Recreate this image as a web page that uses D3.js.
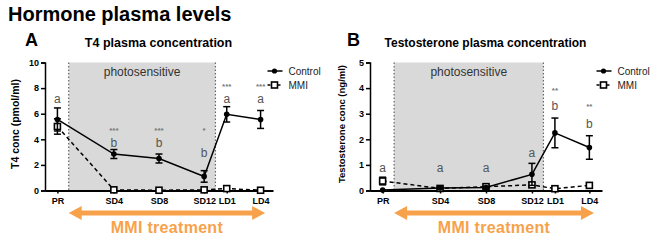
<!DOCTYPE html>
<head>
    <script src="https://d3js.org/d3.v7.min.js"></script>
    <style>
        body { margin: 0; background: #fff; font-family: Arial, "Liberation Sans", sans-serif; }
        svg text { font-family: Arial, "Liberation Sans", sans-serif; }
    </style>
</head>
<body>
    <svg></svg>
    <script>
        // sampling points, placed on a day axis
        const categories = ["PR", "SD4", "SD8", "SD12", "LD1", "LD4"]
        const days = [-1, 4, 8, 12, 14, 17]

        // T4 (pmol/ml)
        const t4Control = [5.55, 2.85, 2.5, 1.1, 5.95, 5.55]
        const t4ControlErr = [0.9, 0.35, 0.35, 0.45, 0.6, 0.7]
        const t4Mmi = [5.0, 0.05, 0.02, 0.05, 0.15, 0.02]
        const t4MmiErr = [0.6, 0, 0, 0, 0, 0]
        const t4Letters = ["a", "b", "b", "b", "a", "a"]
        const t4LetterAt = [6.84, 3.41, 3.41, 2.62, 6.84, 6.84]
        const t4Stars = ["", "***", "***", "*", "***", "***"]
        const t4StarAt = [0, 4.5, 4.5, 4.5, 7.9, 7.9]

        // Testosterone (ng/ml)
        const tesControl = [0.02, 0.1, 0.12, 0.63, 2.25, 1.68]
        const tesControlErr = [0, 0.03, 0.03, 0.43, 0.58, 0.46]
        const tesMmi = [0.37, 0.08, 0.15, 0.22, 0.07, 0.2]
        const tesMmiErr = [0.15, 0, 0.05, 0.08, 0, 0]
        const tesLetters = ["a", "a", "a", "a", "b", "b"]
        const tesLetterAt = [0.73, 0.73, 0.73, 1.3, 3.14, 2.43]
        const tesStars = ["", "", "", "", "**", "**"]
        const tesStarAt = [0, 0, 0, 0, 3.8, 3.2]

        const shadeDays = [0, 13]
        const arrowDays = [0, 17.4]

        const svg = d3.select('svg').attr('width', 660).attr('height', 240)

        svg.append('text')
            .attr('x', 8).attr('y', 21)
            .style('font-size', '20px').style('font-weight', 'bold')
            .text('Hormone plasma levels')

        const orange = '#f7a24a'

        function drawPanel(o) {
            const g = svg.append('g').attr('transform', 'translate(' + o.left + ',0)')
            const x = d3.scaleLinear().domain([-2.1, 18.1]).range([0, o.width])
            const y = d3.scaleLinear().domain([0, o.ymax]).range([190.5, 62.5])

            g.append('text').attr('x', o.letterX).attr('y', 46)
                .style('font-size', '18px').style('font-weight', 'bold').text(o.letter)
            g.append('text').attr('x', o.titleX).attr('y', 47)
                .attr('text-anchor', 'middle')
                .style('font-size', o.titleSize).style('font-weight', 'bold').text(o.title)

            // photosensitive shading
            g.append('rect')
                .attr('x', x(shadeDays[0])).attr('y', y(o.ymax))
                .attr('width', x(shadeDays[1]) - x(shadeDays[0]))
                .attr('height', y(0) - y(o.ymax))
                .attr('fill', '#d9d9d9')
            shadeDays.forEach(d => {
                g.append('line')
                    .attr('x1', x(d)).attr('x2', x(d))
                    .attr('y1', y(o.ymax)).attr('y2', y(0))
                    .attr('stroke', '#666').attr('stroke-width', 1.2)
                    .attr('stroke-dasharray', '1.5,2')
            })
            g.append('text')
                .attr('x', (x(shadeDays[0]) + x(shadeDays[1])) / 2).attr('y', 76)
                .attr('text-anchor', 'middle')
                .style('font-size', '12px').attr('fill', '#333').text('photosensitive')

            // axes
            const yAxis = g.append('g').attr('transform', 'translate(' + x(-2.1) + ',0)')
                .call(d3.axisLeft(y).ticks(5).tickSize(4).tickPadding(2))
            yAxis.select('.domain').attr('stroke', '#000').attr('stroke-width', 1.5)
            yAxis.selectAll('.tick line').attr('stroke-width', 1.5)
            yAxis.selectAll('text').style('font-size', '9px').style('font-weight', 'bold')

            const xAxis = g.append('g').attr('transform', 'translate(0,' + y(0) + ')')
                .call(d3.axisBottom(x).tickValues(days).tickFormat((d, i) => categories[i])
                    .tickSize(3).tickSizeOuter(0).tickPadding(4))
            xAxis.select('.domain').attr('stroke', '#000').attr('stroke-width', 2)
            xAxis.selectAll('.tick line').attr('stroke-width', 1.5)
            xAxis.selectAll('text').style('font-size', '9px').style('font-weight', 'bold')

            g.append('text')
                .attr('transform', 'translate(' + o.ylabelX + ',124)rotate(-90)')
                .attr('text-anchor', 'middle')
                .style('font-size', o.ylabelSize).style('font-weight', 'bold').text(o.ylabel)

            const line = d3.line().x((v, i) => x(days[i])).y(v => y(v))

            // MMI series (dashed, open squares)
            g.append('path').datum(o.mmi).attr('d', line)
                .attr('fill', 'none').attr('stroke', '#000').attr('stroke-width', 1.5)
                .attr('stroke-dasharray', '4,3')
            o.mmi.forEach((v, i) => {
                const e = o.mmiErr[i]
                if (e > 0) errorBar(g, x(days[i]), y(v + e), y(v - e))
            })
            g.selectAll('.sq').data(o.mmi).enter().append('rect')
                .attr('x', (v, i) => x(days[i]) - 3).attr('y', v => y(v) - 3)
                .attr('width', 6).attr('height', 6)
                .attr('fill', '#fff').attr('stroke', '#000').attr('stroke-width', 1.6)

            // Control series (solid, filled circles)
            g.append('path').datum(o.control).attr('d', line)
                .attr('fill', 'none').attr('stroke', '#000').attr('stroke-width', 1.5)
            o.control.forEach((v, i) => {
                const e = o.controlErr[i]
                if (e > 0) errorBar(g, x(days[i]), y(v + e), y(v - e))
            })
            g.selectAll('.dot').data(o.control).enter().append('circle')
                .attr('cx', (v, i) => x(days[i])).attr('cy', v => y(v)).attr('r', 2.8)
                .attr('fill', '#000')

            // significance letters and stars
            o.letters.forEach((t, i) => {
                g.append('text').attr('x', x(days[i])).attr('y', y(o.letterAt[i]))
                    .attr('text-anchor', 'middle').attr('fill', '#555')
                    .style('font-size', '12px').text(t)
            })
            o.stars.forEach((t, i) => {
                if (!t) return
                g.append('text').attr('x', x(days[i])).attr('y', y(o.starAt[i]))
                    .attr('text-anchor', 'middle').attr('fill', '#777')
                    .style('font-size', '8px').style('font-weight', 'bold').text(t)
            })

            // legend
            const lx = o.width + 1.5
            g.append('line').attr('x1', lx - 7).attr('x2', lx + 8).attr('y1', 71).attr('y2', 71)
                .attr('stroke', '#000').attr('stroke-width', 1.5)
            g.append('circle').attr('cx', lx).attr('cy', 71).attr('r', 2.6)
            g.append('text').attr('x', lx + 14).attr('y', 74.5)
                .style('font-size', '10px').attr('fill', '#222').text('Control')
            g.append('line').attr('x1', lx - 7).attr('x2', lx + 8).attr('y1', 85).attr('y2', 85)
                .attr('stroke', '#000').attr('stroke-width', 1.5).attr('stroke-dasharray', '3,2')
            g.append('rect').attr('x', lx - 3).attr('y', 82).attr('width', 6).attr('height', 6)
                .attr('fill', '#fff').attr('stroke', '#000').attr('stroke-width', 1.6)
            g.append('text').attr('x', lx + 14).attr('y', 88.5)
                .style('font-size', '10px').attr('fill', '#222').text('MMI')

            // treatment arrow
            const ax0 = x(arrowDays[0]), ax1 = x(arrowDays[1])
            g.append('line').attr('x1', ax0 + 8).attr('x2', ax1 - 8).attr('y1', 213).attr('y2', 213)
                .attr('stroke', orange).attr('stroke-width', 5)
            g.append('path').attr('d', 'M' + ax0 + ',213L' + (ax0 + 13) + ',206L' + (ax0 + 13) + ',220Z')
                .attr('fill', orange)
            g.append('path').attr('d', 'M' + ax1 + ',213L' + (ax1 - 13) + ',206L' + (ax1 - 13) + ',220Z')
                .attr('fill', orange)
            g.append('text').attr('x', (ax0 + ax1) / 2).attr('y', 233)
                .attr('text-anchor', 'middle').attr('fill', orange)
                .style('font-size', '16px').style('font-weight', 'bold')
                .style('letter-spacing', '0.3px').text('MMI treatment')
        }

        function errorBar(g, cx, top, bottom) {
            g.append('line').attr('x1', cx).attr('x2', cx).attr('y1', top).attr('y2', bottom)
                .attr('stroke', '#000').attr('stroke-width', 1.5)
            ;[top, bottom].forEach(yy => {
                g.append('line').attr('x1', cx - 3.5).attr('x2', cx + 3.5).attr('y1', yy).attr('y2', yy)
                    .attr('stroke', '#000').attr('stroke-width', 1.5)
            })
        }

        drawPanel({
            left: 45, width: 228, ymax: 10,
            letter: 'A', letterX: -20,
            title: 'T4 plasma concentration', titleX: 113.5, titleSize: '12.5px',
            ylabel: 'T4 conc (pmol/ml)', ylabelX: -26, ylabelSize: '10.5px',
            control: t4Control, controlErr: t4ControlErr,
            mmi: t4Mmi, mmiErr: t4MmiErr,
            letters: t4Letters, letterAt: t4LetterAt,
            stars: t4Stars, starAt: t4StarAt
        })

        drawPanel({
            left: 370, width: 232, ymax: 5,
            letter: 'B', letterX: -23,
            title: 'Testosterone plasma concentration', titleX: 115.5, titleSize: '12px',
            ylabel: 'Testosterone conc (ng/ml)', ylabelX: -25, ylabelSize: '9.5px',
            control: tesControl, controlErr: tesControlErr,
            mmi: tesMmi, mmiErr: tesMmiErr,
            letters: tesLetters, letterAt: tesLetterAt,
            stars: tesStars, starAt: tesStarAt
        })
    </script>
</body>
